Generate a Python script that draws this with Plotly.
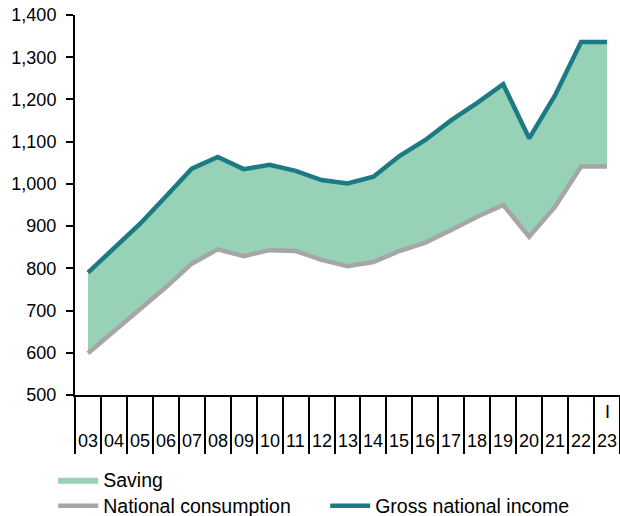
import plotly.graph_objects as go

years = ["03", "04", "05", "06", "07", "08", "09", "10", "11", "12", "13",
         "14", "15", "16", "17", "18", "19", "20", "21", "22", "23"]
gni = [790, 848, 905, 970, 1036, 1064, 1035, 1045, 1031, 1009, 1001,
       1017, 1066, 1104, 1151, 1192, 1236, 1108, 1210, 1336, 1336]
consumption = [599, 650, 701, 755, 811, 845, 829, 843, 841, 820, 805,
               815, 841, 861, 891, 922, 950, 875, 946, 1041, 1041]
y_ticks = [500, 600, 700, 800, 900, 1000, 1100, 1200, 1300, 1400]
y_ticktext = ["500", "600", "700", "800", "900", "1,000", "1,100", "1,200", "1,300", "1,400"]
extra_label = {"23": "I"}

TEAL = "#1b7a84"
GRAY = "#a6a6a6"
FILL = "#97d1b6"
FONT = "Liberation Sans, Arial, sans-serif"

xs = list(range(len(years)))

fig = go.Figure()
fig.add_trace(go.Scatter(x=xs, y=consumption, mode="lines", line=dict(width=0, color=FILL),
                         showlegend=False, hoverinfo="skip"))
fig.add_trace(go.Scatter(x=xs, y=gni, mode="lines", line=dict(width=0, color=FILL),
                         fill="tonexty", fillcolor=FILL, name="Saving", legend="legend"))
fig.add_trace(go.Scatter(x=xs, y=consumption, mode="lines", line=dict(width=4.5, color=GRAY),
                         name="National consumption", legend="legend2"))
fig.add_trace(go.Scatter(x=xs, y=gni, mode="lines", line=dict(width=4.5, color=TEAL),
                         name="Gross national income", legend="legend2"))

annotations = []
for i, yr in enumerate(years):
    annotations.append(dict(x=i, y=-0.121, xref="x", yref="paper", text=yr, showarrow=False,
                            xanchor="center", yanchor="middle", font=dict(size=18, color="black")))
    if yr in extra_label:
        annotations.append(dict(x=i, y=-0.046, xref="x", yref="paper", text=extra_label[yr],
                                showarrow=False, xanchor="center", yanchor="middle",
                                font=dict(size=18, color="black")))

fig.update_layout(
    width=620, height=516,
    margin=dict(l=75, r=0, t=15, b=121, autoexpand=False),
    paper_bgcolor="white", plot_bgcolor="white",
    font=dict(family=FONT, size=18, color="black"),
    xaxis=dict(range=[-0.5, len(years) - 0.5], tickmode="array",
               tickvals=[i - 0.5 for i in range(len(years) + 1)],
               ticktext=["" for _ in range(len(years) + 1)],
               ticks="outside", ticklen=57, tickwidth=2, tickcolor="black",
               showline=True, linecolor="black", linewidth=2, showgrid=False, zeroline=False),
    yaxis=dict(range=[500, 1400], tickmode="array", tickvals=y_ticks, ticktext=y_ticktext,
               ticks="outside", ticklen=7, tickwidth=2, tickcolor="black",
               showline=True, linecolor="black", linewidth=2, showgrid=False, zeroline=False,
               ticklabelstandoff=6),
    annotations=annotations,
    legend=dict(x=-0.04, y=-0.224, xanchor="left", yanchor="middle", orientation="h",
                font=dict(size=19.5), bgcolor="rgba(0,0,0,0)", itemwidth=40),
    legend2=dict(x=-0.04, y=-0.292, xanchor="left", yanchor="middle", orientation="h",
                 font=dict(size=19.5), bgcolor="rgba(0,0,0,0)", entrywidth=217, itemwidth=40),
    showlegend=True,
)

fig.write_html("out.html", config={"displayModeBar": False},
               post_script="document.body.style.margin='0';document.body.style.overflow='hidden';")
